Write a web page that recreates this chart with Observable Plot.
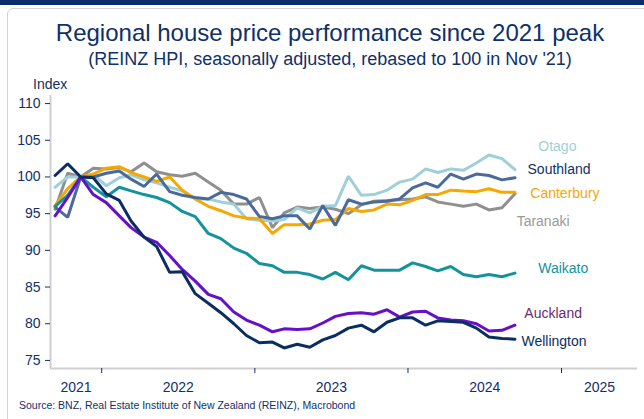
<!DOCTYPE html>
<html>
<head>
<meta charset="utf-8">
<script src="https://cdn.jsdelivr.net/npm/d3@7"></script>
<script src="https://cdn.jsdelivr.net/npm/@observablehq/plot@0.6"></script>
<style>
  html, body { margin: 0; padding: 0; background: #fff; }
  body { width: 644px; height: 419px; position: relative; overflow: hidden; font-family: "Liberation Sans", Arial, sans-serif; }
  #topbar { position: absolute; left: 0; top: 0; width: 644px; height: 5px; background: #0c2c6e; }
  #frame { position: absolute; left: 7px; top: 8px; width: 700px; height: 500px; border: 1px solid #d4d4d4; border-radius: 6px; }
  #title { position: absolute; left: 8px; width: 644px; top: 21px; text-align: center; font-size: 24px; line-height: 24px; color: #10306a; }
  #subtitle { position: absolute; left: 8px; width: 644px; top: 50px; text-align: center; font-size: 18px; line-height: 18px; color: #10306a; }
  #ylab { position: absolute; left: 33px; top: 77px; font-size: 14px; line-height: 14px; color: #10306a; }
  #chart { position: absolute; left: 0; top: 70px; }
  #source { position: absolute; left: 19px; top: 400px; font-size: 10.5px; line-height: 11px; color: #10306a; }
</style>
</head>
<body>
<div id="topbar"></div>
<div id="frame"></div>
<div id="title">Regional house price performance since 2021 peak</div>
<div id="subtitle">(REINZ HPI, seasonally adjusted, rebased to 100 in Nov '21)</div>
<div id="ylab">Index</div>
<div id="chart"></div>
<div id="source">Source: BNZ, Real Estate Institute of New Zealand (REINZ), Macrobond</div>
<script>
const months = ["2021-09","2021-10","2021-11","2021-12",
  "2022-01","2022-02","2022-03","2022-04","2022-05","2022-06","2022-07","2022-08","2022-09","2022-10","2022-11","2022-12",
  "2023-01","2023-02","2023-03","2023-04","2023-05","2023-06","2023-07","2023-08","2023-09","2023-10","2023-11","2023-12",
  "2024-01","2024-02","2024-03","2024-04","2024-05","2024-06","2024-07","2024-08","2024-09"];

const regions = ["Taranaki","Otago","Canterbury","Southland","Waikato","Auckland","Wellington"];

const taranaki = [95.6,100.5,100,101.2,101.1,101.3,100.7,101.9,100.7,100.3,100.1,100.5,99.3,98.2,96.3,96.3,97.2,93.1,95.1,95.9,95.7,95.9,95.6,95.0,96.2,96.7,96.8,96.9,97.0,97.3,96.6,96.3,96.0,96.3,95.5,95.8,97.7];
const otago = [98.6,100.0,100,100.3,98.8,99.9,100.3,99.6,99.2,98.6,98.1,97.0,97.0,96.6,96.3,94.3,94.1,94.0,94.2,95.8,95.1,96.0,96.1,100.1,97.5,97.6,98.2,99.3,99.7,101.1,100.6,101.1,100.9,101.9,103.0,102.5,101.0];
const canterbury = [96.1,98.4,100,100.4,101.2,101.4,100.6,100.0,99.4,100.0,98.2,97.0,96.0,95.4,94.7,94.4,94.3,92.3,93.5,93.5,93.6,94.1,94.2,95.7,95.3,95.5,96.3,96.2,96.8,97.6,97.6,98.2,98.1,98.0,98.4,97.9,97.9];
const southland = [95.9,94.5,100,100.0,100.5,100.8,99.7,98.7,100.4,98.0,97.5,97.2,97.0,97.9,97.6,97.0,94.6,94.3,94.7,94.7,92.9,96.1,93.4,96.9,96.3,96.6,96.7,97.0,98.5,99.2,98.6,100.4,99.7,100.4,100.2,99.6,99.9];
const waikato = [96.0,97.5,100,98.6,97.3,98.6,98.1,97.6,97.2,96.5,95.3,94.6,92.3,91.6,90.3,89.6,88.2,87.9,87.0,87.0,86.7,86.1,87.0,86.0,87.9,87.3,87.3,87.3,88.3,87.8,87.2,87.8,86.7,86.4,86.7,86.4,86.9];
const auckland = [94.7,97.2,100,97.6,96.5,94.7,93.1,91.8,91.1,89.3,87.4,85.8,84.0,83.4,81.6,80.5,79.8,78.9,79.3,79.2,79.3,80.1,81.0,81.4,81.5,81.3,81.9,80.9,81.6,81.7,80.8,80.5,80.4,80.0,79.0,79.1,79.8];
const wellington = [100.2,101.8,100,99.9,97.7,96.8,94.0,91.8,90.5,87.0,87.1,84.1,82.8,81.5,80.0,78.4,77.4,77.5,76.7,77.2,76.8,77.8,78.4,79.4,79.8,78.9,80.2,80.8,80.8,79.8,80.4,80.3,80.2,79.4,78.2,78.0,77.9];

const seriesValues = [taranaki, otago, canterbury, southland, waikato, auckland, wellington];
const lineColors = ["#8f8f8f","#9fd0d9","#f7a800","#4a6a9c","#13939c","#6610c8","#0a2d62"];

// Labels on the right
const labelNames = ["Otago","Southland","Canterbury","Taranaki","Waikato","Auckland","Wellington"];
const labelColors = ["#9fd0d9","#10306a","#f7a800","#9a9a9a","#13939c","#6b2a6e","#0a2d62"];
const labelDates = ["2024-12-22","2024-12-26","2025-01-09","2024-11-18","2025-01-05","2024-12-12","2024-12-14"];
const labelValues = [104.1, 101.0, 97.7, 93.9, 87.5, 81.4, 77.6];

const yTicks = [75, 80, 85, 90, 95, 100, 105, 110];
const yearLabels = ["2021","2022","2023","2024","2025"];

const xDomain = [new Date("2021-09-01"), new Date("2025-07-01")];
const yDomain = [73.9, 111.1];

const rows = regions.flatMap((r, k) => seriesValues[k].map((v, i) => ({region: r, date: new Date(months[i] + "-12"), value: v})));
const labels = labelNames.map((n, i) => ({name: n, date: new Date(labelDates[i]), value: labelValues[i], color: labelColors[i]}));

const yearTicks = yearLabels.slice(1).map(y => new Date(`${y}-01-01`));
const yearMid = yearLabels.map(y => {
  const a = Math.max(+new Date(`${y}-01-01`), +xDomain[0]);
  const b = Math.min(+new Date(`${+y + 1}-01-01`), +xDomain[1]);
  return new Date((a + b) / 2);
});

const chart = Plot.plot({
  width: 644,
  height: 330,
  marginLeft: 50,
  marginRight: 7,
  marginTop: 25,
  marginBottom: 32,
  style: {fontFamily: '"Liberation Sans", Arial, sans-serif', background: "transparent", overflow: "visible"},
  x: {type: "utc", domain: xDomain},
  y: {domain: yDomain},
  color: {domain: regions, range: lineColors},
  marks: [
    Plot.ruleY([yDomain[0]], {stroke: "#cfcfcf", strokeWidth: 2}),
    Plot.ruleX([xDomain[0]], {stroke: "#cfcfcf", strokeWidth: 2}),
    Plot.axisY({ticks: yTicks, tickSize: 5, tickPadding: 5, fontSize: 14, color: "#10306a", stroke: "#10306a", label: null}),
    Plot.axisX({ticks: yearTicks, tickSize: 5, tickFormat: () => "", color: "#10306a", label: null}),
    Plot.axisX({ticks: yearMid, tickSize: 0, tickPadding: 14, tickFormat: (d, i) => yearLabels[i], fontSize: 14, color: "#10306a", label: null}),
    Plot.line(rows, {x: "date", y: "value", z: "region", stroke: "region", strokeWidth: 3, strokeLinejoin: "miter"}),
    Plot.text(labels, {x: "date", y: "value", text: "name", fill: "color", fontSize: 14, textAnchor: "middle"})
  ]
});
document.getElementById("chart").appendChild(chart);
</script>
</body>
</html>
